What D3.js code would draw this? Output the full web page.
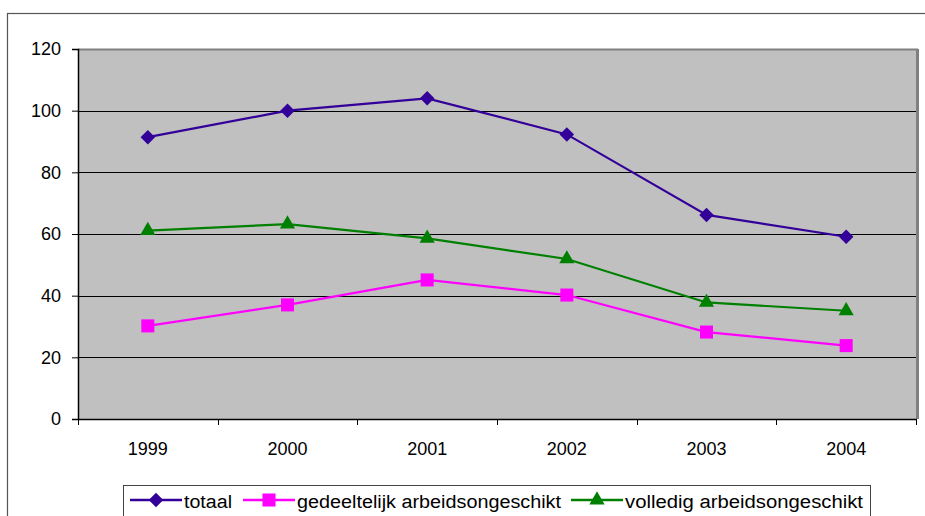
<!DOCTYPE html>
<html>
<head>
<meta charset="utf-8">
<script src="https://cdn.jsdelivr.net/npm/d3@7"></script>
<style>
  html, body { margin: 0; padding: 0; background: #fff; }
  svg { display: block; font-family: "Liberation Sans", Arial, sans-serif; }
</style>
</head>
<body>
<svg id="chart" width="925" height="516"></svg>
<script>
// WAO-instroom (x 1000) per jaar
const years = ["1999", "2000", "2001", "2002", "2003", "2004"];
const totaal = [91.4, 100.0, 104.0, 92.3, 66.2, 59.1];
const gedeeltelijk = [30.2, 37.0, 45.1, 40.2, 28.2, 23.8];
const volledig = [61.1, 63.2, 58.6, 51.9, 37.8, 35.1];
const yTicks = [0, 20, 40, 60, 80, 100, 120];
const seriesNames = ["totaal", "gedeeltelijk arbeidsongeschikt", "volledig arbeidsongeschikt"];

const FONT = "Liberation Sans, Arial, sans-serif";

// diamond drawn as a square turned 45 degrees
const diamond = {
  draw(ctx, size) {
    const r = Math.sqrt(size / 2);
    ctx.moveTo(0, -r); ctx.lineTo(r, 0); ctx.lineTo(0, r); ctx.lineTo(-r, 0); ctx.closePath();
  }
};

const series = [
  { name: seriesNames[0], values: totaal, color: "#330099", symbol: diamond, size: 105, legendW: 48 },
  { name: seriesNames[1], values: gedeeltelijk, color: "#FF00FF", symbol: d3.symbolSquare, size: 170, legendW: 264 },
  { name: seriesNames[2], values: volledig, color: "#008000", symbol: d3.symbolTriangle, size: 100, legendW: 238 }
];

const svg = d3.select("#chart");
const plot = { left: 78, right: 916, top: 49, bottom: 419 };

// outer chart frame
svg.append("rect")
  .attr("x", 7.5).attr("y", 13.5)
  .attr("width", 940).attr("height", 540)
  .attr("fill", "#fff").attr("stroke", "#555").attr("stroke-width", 1.2);

const x = d3.scaleBand().domain(years).range([plot.left, plot.right]).padding(0);
const y = d3.scaleLinear().domain([0, 120]).range([plot.bottom, plot.top]);

// plot area
svg.append("rect")
  .attr("x", plot.left).attr("y", plot.top)
  .attr("width", plot.right - plot.left).attr("height", plot.bottom - plot.top)
  .attr("fill", "#C0C0C0");

// horizontal gridlines
svg.append("g").selectAll("line")
  .data(yTicks.filter(t => t > 0 && t < 120))
  .join("line")
  .attr("x1", plot.left).attr("x2", plot.right)
  .attr("y1", d => Math.round(y(d)) + 0.5).attr("y2", d => Math.round(y(d)) + 0.5)
  .attr("stroke", "#000").attr("stroke-width", 1);

// plot border (top and right)
svg.append("line")
  .attr("x1", plot.left).attr("x2", plot.right + 2)
  .attr("y1", plot.top + 0.5).attr("y2", plot.top + 0.5)
  .attr("stroke", "#808080").attr("stroke-width", 2);
svg.append("line")
  .attr("x1", plot.right + 1.5).attr("x2", plot.right + 1.5)
  .attr("y1", plot.top).attr("y2", plot.bottom)
  .attr("stroke", "#808080").attr("stroke-width", 3);

// y axis
const yAxis = d3.axisLeft(y).tickValues(yTicks).tickSize(6).tickPadding(11);
const gy = svg.append("g")
  .attr("transform", `translate(${plot.left},0)`)
  .call(yAxis);
gy.select(".domain").attr("stroke", "#000").attr("stroke-width", 1.5);
gy.selectAll(".tick line").attr("stroke", "#000");
gy.selectAll(".tick text").attr("font-size", 18).attr("fill", "#000")
  .attr("font-family", FONT);

// x axis with ticks at category boundaries
const gx = svg.append("g")
  .attr("transform", `translate(0,${plot.bottom})`)
  .call(d3.axisBottom(x).tickSize(0).tickPadding(23));
gx.select(".domain").attr("stroke", "#000").attr("stroke-width", 1.5);
gx.selectAll(".tick text").attr("font-size", 18).attr("fill", "#000")
  .attr("font-family", FONT);
const boundaries = years.map(d => x(d)).concat([x(years[years.length - 1]) + x.bandwidth()]);
gx.selectAll(".bound")
  .data(boundaries)
  .join("line")
  .attr("class", "bound")
  .attr("x1", d => Math.round(d) + 0.5).attr("x2", d => Math.round(d) + 0.5)
  .attr("y1", 0).attr("y2", 6)
  .attr("stroke", "#000");

// series lines and markers
const cx = d => x(d) + x.bandwidth() / 2;
series.forEach(s => {
  const line = d3.line().x((v, i) => cx(years[i])).y(v => y(v));
  svg.append("path")
    .datum(s.values)
    .attr("d", line)
    .attr("fill", "none")
    .attr("stroke", s.color)
    .attr("stroke-width", 2.2);
  svg.append("g").selectAll("path")
    .data(s.values)
    .join("path")
    .attr("transform", (v, i) => `translate(${cx(years[i])},${y(v)})`)
    .attr("d", d3.symbol().type(s.symbol).size(s.size))
    .attr("fill", s.color);
});

// legend
const legend = svg.append("g");
legend.append("rect")
  .attr("x", 123.5).attr("y", 485.5)
  .attr("width", 747).attr("height", 40)
  .attr("fill", "#fff").attr("stroke", "#444").attr("stroke-width", 1);

const legendX = [130, 243, 571];
series.forEach((s, i) => {
  const g = legend.append("g").attr("transform", `translate(${legendX[i]},500)`);
  g.append("line").attr("x1", 0).attr("x2", 52).attr("y1", 0).attr("y2", 0)
    .attr("stroke", s.color).attr("stroke-width", 2.5);
  g.append("path").attr("transform", "translate(26,0)")
    .attr("d", d3.symbol().type(s.symbol).size(s.size)).attr("fill", s.color);
  g.append("text").attr("x", 54).attr("y", 8)
    .attr("font-size", 18).attr("font-family", FONT).attr("fill", "#000")
    .attr("textLength", s.legendW).attr("lengthAdjust", "spacingAndGlyphs")
    .text(s.name);
});
</script>
</body>
</html>
